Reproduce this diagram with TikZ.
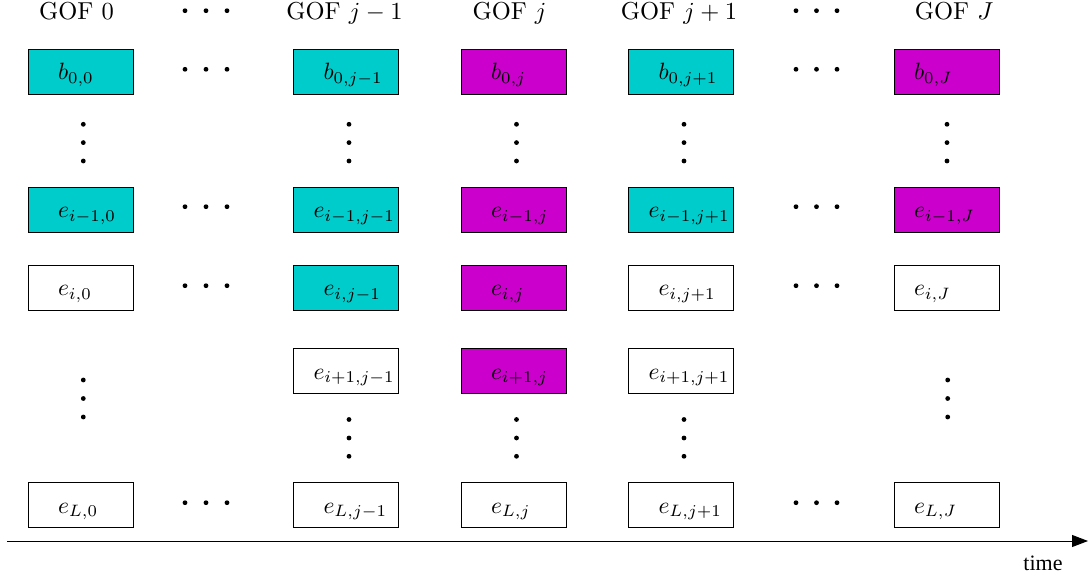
\documentclass[tikz,border=0pt]{standalone}
\usepackage{fontspec}
\newfontfamily\timesfont{Liberation Serif}
\usetikzlibrary{arrows.meta}
\definecolor{cy}{HTML}{00CCCC}
\definecolor{mg}{HTML}{CC00CC}
\newcommand{\hdtxt}[1]{\scalebox{2.45}{GOF $#1$}}
\newcommand{\cellm}[1]{\scalebox{2.36}{$#1$}}
\begin{document}
\begin{tikzpicture}[x=1pt,y=-1pt,
  cell/.style={draw=black, line width=0.9pt, minimum height=45pt, inner ysep=0pt,
    text width=45pt, inner xsep=30pt, align=left, text height=18pt, text depth=2pt},
  nar/.style={text width=65pt, inner xsep=20pt},
  cf/.style={fill=cy},
  mf/.style={fill=mg},
  head/.style={anchor=base, inner sep=0pt},
  dotr/.style={fill=black}]
\useasboundingbox (0,0) rectangle (1088,580);

% headers
\node[head] (h0) at (76.5,20) {\hdtxt{0}};
\node[head] (h1) at (344.5,20) {\hdtxt{j-1}};
\node[head] (h2) at (509.5,20) {\hdtxt{j}};
\node[head] (h3) at (679,20) {\hdtxt{j+1}};
\node[head] (h4) at (954,20) {\hdtxt{J}};

% column 0
\node[cell,cf] (b0) at (80.5,71.5) {\cellm{b_{0,0}}};
\node[cell,cf] (p0) at (80.5,209.5) {\cellm{e_{i-1,0}}};
\node[cell] (e0) at (80.5,288) {\cellm{e_{i,0}}};
\node[cell] (l0) at (80.5,505) {\cellm{e_{L,0}}};

% column j-1
\node[cell,cf] (b1) at (346,71.5) {\cellm{b_{0,j-1}}};
\node[cell,cf,nar] (p1) at (346,209.5) {\cellm{e_{i-1,j-1}}};
\node[cell,cf] (e1) at (346,288) {\cellm{e_{i,j-1}}};
\node[cell,nar] (n1) at (346,371) {\cellm{e_{i+1,j-1}}};
\node[cell] (l1) at (346,505) {\cellm{e_{L,j-1}}};

% column j
\node[cell,mf] (b2) at (513.5,71.5) {\cellm{b_{0,j}}};
\node[cell,mf] (p2) at (513.5,209.5) {\cellm{e_{i-1,j}}};
\node[cell,mf] (e2) at (513.5,288) {\cellm{e_{i,j}}};
\node[cell,mf] (n2) at (513.5,371) {\cellm{e_{i+1,j}}};
\node[cell] (l2) at (513.5,505) {\cellm{e_{L,j}}};

% column j+1
\node[cell,cf] (b3) at (681,71.5) {\cellm{b_{0,j+1}}};
\node[cell,cf,nar] (p3) at (681,209.5) {\cellm{e_{i-1,j+1}}};
\node[cell] (e3) at (681,288) {\cellm{e_{i,j+1}}};
\node[cell,nar] (n3) at (681,371) {\cellm{e_{i+1,j+1}}};
\node[cell] (l3) at (681,505) {\cellm{e_{L,j+1}}};

% column J
\node[cell,mf,nar] (b4) at (946.5,71.5) {\cellm{b_{0,J}}};
\node[cell,mf,nar] (p4) at (946.5,209.5) {\cellm{e_{i-1,J}}};
\node[cell,nar] (e4) at (946.5,288) {\cellm{e_{i,J}}};
\node[cell,nar] (l4) at (946.5,505) {\cellm{e_{L,J}}};

% horizontal ellipses
\foreach \x in {185,206,227,796,816.5,837}
  \foreach \y in {10.7,69.3,206.7,285.7,502.7}
    \fill[dotr] (\x,\y) circle (2.4pt);

% vertical ellipses between b row and e_{i-1} row
\foreach \x in {83.3,349,516.5,684,947}
  \foreach \y in {124.3,142.6,161}
    \fill[dotr] (\x,\y) circle (2.4pt);

% vertical ellipses lower part
\foreach \x in {83.3,947.7}
  \foreach \y in {380,398.5,417}
    \fill[dotr] (\x,\y) circle (2.4pt);
\foreach \x in {349,516.5,684}
  \foreach \y in {419.5,438,456.3}
    \fill[dotr] (\x,\y) circle (2.4pt);

% time axis
\coordinate (t0) at (7,541);
\coordinate (t1) at (1088,541);
\draw[line width=0.9pt, -{Triangle[length=16pt,width=12pt]}] (t0) -- (t1);
\node[anchor=base, inner sep=0pt, font=\timesfont\fontsize{22}{26}\selectfont] (time) at (1043,570) {time};
\end{tikzpicture}
\end{document}
